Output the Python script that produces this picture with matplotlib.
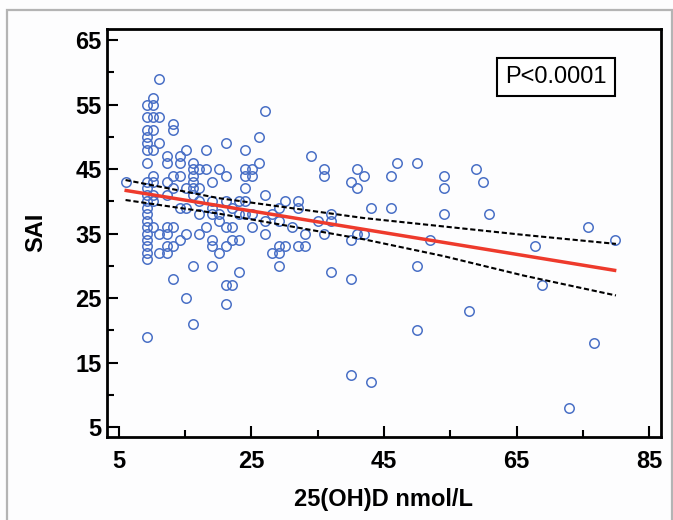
import numpy as np
import matplotlib
matplotlib.use("Agg")
import matplotlib.pyplot as plt
from matplotlib.patches import Rectangle

# === Data ===
# 25(OH)D (nmol/L) and SAI, one pair per circle
vitd = (
    [6.1]
    + [9.2] * 21
    + [10.1] * 10
    + [11.1] * 5
    + [12.2] * 8
    + [13.2] * 7
    + [14.2] * 5
    + [15.1] * 5
    + [16.2] * 8
    + [17.1] * 5
    + [18.1] * 3
    + [19.1] * 7
    + [20.1] * 4
    + [21.1] * 7
    + [22.1] * 4
    + [23.1] * 4
    + [24.0] * 6
    + [25.1] * 4
    + [26.1] * 2
    + [27.1] * 4
    + [28.1] * 2
    + [29.1] * 5
    + [30.1] * 2
    + [31.1] * 1
    + [32.0] * 3
    + [33.1] * 2
    + [34.0] * 1
    + [35.1] * 1
    + [36.0] * 3
    + [37.0] * 3
    + [40.0] * 4
    + [40.9] * 3
    + [42.0] * 2
    + [43.0] * 2
    + [46.0] * 2
    + [46.9] * 1
    + [50.0] * 3
    + [51.9] * 1
    + [54.0] * 3
    + [57.9, 58.9, 60.0, 60.9, 67.8, 68.9, 72.9, 75.8, 76.7, 79.8]
)
sai = (
    [43]
    + [55, 53, 51, 50, 49, 48, 46, 43, 42, 41, 40, 39, 38, 37, 36, 35, 34, 33, 32, 31, 19]
    + [56, 55, 53, 51, 48, 44, 43, 41, 40, 36]
    + [59, 53, 49, 35, 32]
    + [47, 46, 43, 41, 36, 35, 33, 32]
    + [52, 51, 44, 42, 36, 33, 28]
    + [47, 46, 44, 39, 34]
    + [48, 42, 39, 35, 25]
    + [46, 45, 44, 43, 42, 41, 30, 21]
    + [45, 42, 40, 38, 35]
    + [48, 45, 36]
    + [43, 40, 39, 38, 34, 33, 30]
    + [45, 38, 37, 32]
    + [49, 44, 40, 36, 33, 27, 24]
    + [39, 36, 34, 27]
    + [40, 38, 34, 29]
    + [48, 45, 44, 42, 40, 38]
    + [45, 44, 38, 36]
    + [50, 46]
    + [54, 41, 37, 35]
    + [38, 32]
    + [39, 37, 33, 32, 30]
    + [40, 33]
    + [36]
    + [40, 39, 33]
    + [35, 33]
    + [47]
    + [37]
    + [45, 44, 35]
    + [38, 37, 29]
    + [43, 34, 28, 13]
    + [45, 42, 35]
    + [44, 35]
    + [39, 12]
    + [44, 39]
    + [46]
    + [46, 30, 20]
    + [34]
    + [44, 42, 38]
    + [23, 45, 43, 38, 33, 27, 8, 36, 18, 34]
)

# regression line and its 95% band
fit_intercept = 42.7
fit_slope = -0.168
ci_x = [6, 20, 42, 54, 66, 80]
ci_upper = [43.3, 40.5, 37.4, 36.1, 34.8, 33.4]
ci_lower = [40.2, 38.1, 34.1, 31.5, 28.5, 25.4]

x_ticks = [5, 25, 45, 65, 85]
y_ticks = [5, 15, 25, 35, 45, 55, 65]

# === Plot ===
plt.rcParams["font.family"] = ["Liberation Sans", "DejaVu Sans"]

fig = plt.figure(figsize=(6.73, 5.2), dpi=100)
fig.patch.set_facecolor("#fdfdfe")
fig.patches.append(Rectangle((6.5 / 673, -0.01), 665 / 673, 1 - 10 / 520 + 0.01,
                             transform=fig.transFigure, fill=False,
                             ec="#b4b4b4", lw=1.6))

ax = fig.add_axes([107 / 673, 1 - 437 / 520, 554 / 673, 408.5 / 520])
ax.set_facecolor("#fdfdfe")

ax.plot(vitd, sai, "o", ms=6.8, mfc="none", mec="#4a70c6", mew=1.1)

fx = np.array([min(vitd), max(vitd)])
ax.plot(fx, fit_intercept + fit_slope * fx, color="#ee3a2c", lw=2.5)
ax.plot(ci_x, ci_upper, color="black", lw=1.5, dashes=(2.5, 1.3))
ax.plot(ci_x, ci_lower, color="black", lw=1.5, dashes=(2.5, 1.3))

ax.set_xlim(3.2, 86.8)
ax.set_ylim(3.45, 66.8)
ax.set_xticks(x_ticks)
ax.set_yticks(y_ticks)
ax.set_xticks([15, 35, 55, 75], minor=True)
ax.set_yticks([10, 20, 30, 40, 50, 60], minor=True)
ax.tick_params(which="both", direction="in", width=1.5)
ax.tick_params(which="major", length=8)
ax.tick_params(which="minor", length=5)
ax.tick_params(axis="x", pad=9)
ax.tick_params(axis="y", pad=4)
for lab in ax.get_xticklabels() + ax.get_yticklabels():
    lab.set_fontsize(17)
    lab.set_fontweight("bold")

for s in ax.spines.values():
    s.set_linewidth(2)

ax.set_xlabel("25(OH)D nmol/L", fontsize=17, fontweight="bold", labelpad=11)
ax.set_ylabel("SAI", fontsize=17, fontweight="bold", labelpad=20)

ax.text(0.81, 0.881, "P<0.0001", transform=ax.transAxes, ha="center",
        va="center", fontsize=17,
        bbox=dict(boxstyle="square,pad=0.35", fc="white", ec="black", lw=1.5))

fig.savefig("out.png", dpi=100, facecolor=fig.get_facecolor())
